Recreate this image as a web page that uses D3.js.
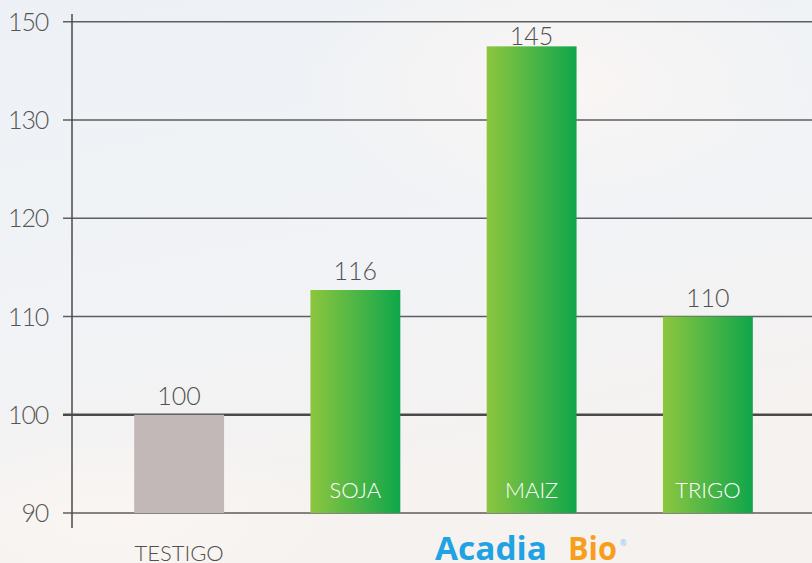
<!DOCTYPE html>
<html><head><meta charset="utf-8">
<script src="https://cdn.jsdelivr.net/npm/d3@7/dist/d3.min.js"></script>
<style>
html,body{margin:0;padding:0;}
body{width:812px;height:563px;overflow:hidden;}
svg{display:block;font-family:"Lato","Open Sans",sans-serif;}
</style></head>
<body>
<svg id="chart" width="812" height="563"></svg>
<script>
const categories = ["TESTIGO", "SOJA", "MAIZ", "TRIGO"];
const barValues = [100, 112.7, 137.5, 110];
const valueLabels = ["100", "116", "145", "110"];
const tickValues = [90, 100, 110, 120, 130, 140];
const tickLabels = ["90", "100", "110", "120", "130", "150"];

const svg = d3.select("#chart");
const W = 812, H = 563;
const defs = svg.append("defs");

// background sky
const bg = defs.append("linearGradient").attr("id","bg").attr("x1","0").attr("y1","0").attr("x2","0.3").attr("y2","1");
bg.append("stop").attr("offset","0").attr("stop-color","#edf1f5");
bg.append("stop").attr("offset","0.55").attr("stop-color","#f1f3f6");
bg.append("stop").attr("offset","1").attr("stop-color","#f6f2ef");
svg.append("rect").attr("width",W).attr("height",H).attr("fill","url(#bg)");
const glow = defs.append("radialGradient").attr("id","glow");
glow.append("stop").attr("offset","0").attr("stop-color","#fbf6f3").attr("stop-opacity",0.9);
glow.append("stop").attr("offset","1").attr("stop-color","#fbf6f3").attr("stop-opacity",0);
svg.append("ellipse").attr("cx",560).attr("cy",80).attr("rx",260).attr("ry",140).attr("fill","url(#glow)");
svg.append("ellipse").attr("cx",120).attr("cy",520).attr("rx",220).attr("ry",90).attr("fill","url(#glow)");

const green = defs.append("linearGradient").attr("id","green").attr("x1","0").attr("y1","0").attr("x2","1").attr("y2","0");
green.append("stop").attr("offset","0").attr("stop-color","#8dc63f");
green.append("stop").attr("offset","1").attr("stop-color","#0fa64b");

const x = d3.scaleBand().domain(categories).range([91, 796]).paddingInner(0.49).paddingOuter(0.245);
const y = d3.scaleLinear().domain([90, 140]).range([513, 21.8]);

// gridlines
svg.append("g").selectAll("line").data(tickValues).join("line")
  .attr("x1", 63).attr("x2", W)
  .attr("y1", d => y(d)).attr("y2", d => y(d))
  .attr("stroke", d => d === 100 ? "#4a4a4a" : "#5e5e5e")
  .attr("stroke-width", d => d === 100 ? 2.6 : 1.5);

// y axis line
svg.append("line").attr("x1",72).attr("x2",72).attr("y1",14).attr("y2",528)
  .attr("stroke","#4a4a4a").attr("stroke-width",1.5);

// tick labels
svg.append("g").selectAll("text").data(tickValues).join("text")
  .attr("x", 48).attr("y", d => y(d) + 9)
  .attr("text-anchor","end")
  .attr("font-size", 25).attr("font-weight", 300).attr("letter-spacing", -1.2).attr("fill","#555")
  .text((d,i) => tickLabels[i]);

// bars
svg.append("g").selectAll("rect").data(categories).join("rect")
  .attr("x", d => x(d)).attr("width", x.bandwidth())
  .attr("y", (d,i) => y(barValues[i]))
  .attr("height", (d,i) => y(90) - y(barValues[i]))
  .attr("fill", (d,i) => i === 0 ? "#c1b8b7" : "url(#green)");

// value labels
svg.append("g").selectAll("text").data(categories).join("text")
  .attr("x", d => x(d) + x.bandwidth()/2)
  .attr("y", (d,i) => Math.max(y(barValues[i]) - 10, y(140) + 23))
  .attr("text-anchor","middle")
  .attr("font-size", 25).attr("font-weight", 300).attr("fill","#505050")
  .text((d,i) => valueLabels[i]);

// category labels
svg.append("g").selectAll("text").data(categories).join("text")
  .attr("x", d => x(d) + x.bandwidth()/2)
  .attr("y", (d,i) => i === 0 ? 561 : 498)
  .attr("text-anchor","middle")
  .attr("font-size", 22)
  .attr("font-weight", 300)
  .attr("fill", (d,i) => i === 0 ? "#505050" : "#ffffff")
  .text(d => d);

// logo
const logoFont = "'Open Sans','Lato',sans-serif";
svg.append("text").attr("x", 435).attr("y", 560)
  .attr("font-size", 33).attr("font-weight", 700).attr("font-family", logoFont)
  .attr("fill","#1fa3e3").attr("textLength", 112).attr("lengthAdjust","spacingAndGlyphs")
  .text("Acadia");
svg.append("text").attr("x", 568).attr("y", 560)
  .attr("font-size", 33).attr("font-weight", 700).attr("font-family", logoFont)
  .attr("fill","#f79f1d").attr("textLength", 49).attr("lengthAdjust","spacingAndGlyphs")
  .text("Bio");
svg.append("text").attr("x", 620).attr("y", 546)
  .attr("font-size", 8).attr("font-weight", 700).attr("font-family", logoFont)
  .attr("fill","#8fcdf0").text("®");
</script>
</body></html>
